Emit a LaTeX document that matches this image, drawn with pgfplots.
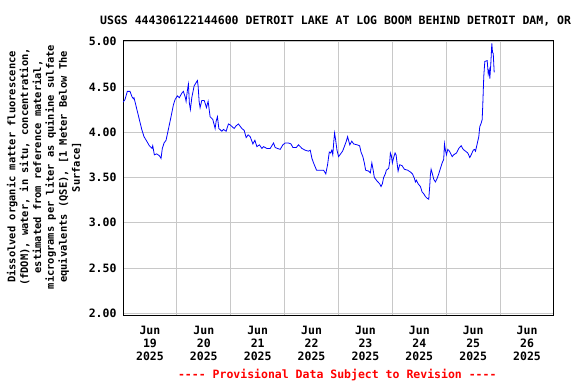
\documentclass[border=0pt]{standalone}
\usepackage{fontspec}
\setmainfont{DejaVu Sans Mono}[Ligatures=TeXOff]
\usepackage{pgfplots}
\pgfplotsset{compat=1.18}
\definecolor{gridgray}{RGB}{200,200,200}
\definecolor{usgsred}{RGB}{255,0,0}
\definecolor{usgsblue}{RGB}{0,0,255}
\begin{document}
\begin{tikzpicture}[x=1pt,y=1pt]
\useasboundingbox (0,0) rectangle (576,-384);
\begin{axis}[
  at={(123pt,-315.5pt)}, anchor=south west,
  scale only axis, width=431pt, height=275.5pt,
  xmin=0, xmax=8, ymin=1.976, ymax=5.017,
  axis line style={black, line width=1pt},
  xtick={0.5,1.5,2.5,3.5,4.5,5.5,6.5,7.5},
  xticklabels={{Jun\\19\\2025},{Jun\\20\\2025},{Jun\\21\\2025},{Jun\\22\\2025},{Jun\\23\\2025},{Jun\\24\\2025},{Jun\\25\\2025},{Jun\\26\\2025}},
  minor xtick={1,2,3,4,5,6,7},
  xminorgrids=true, xmajorgrids=false,
  ytick={2,2.5,3,3.5,4,4.5,5},
  ymajorgrids=true,
  grid style={gridgray, line width=0.8pt},
  minor grid style={gridgray, line width=0.8pt},
  major tick length=0pt, minor tick length=0pt,
  /pgf/number format/assume math mode=true,
  yticklabel={\pgfmathprintnumber[fixed,fixed zerofill,precision=2]{\tick}},
  xticklabel style={align=center, font=\bfseries\fontsize{11.5}{12.8}\selectfont, yshift=-7pt},
  yticklabel style={font=\bfseries\fontsize{11.5}{13}\selectfont, xshift=-3pt},
  clip=true,
]
\addplot[usgsblue, line width=0.8pt] coordinates {
(0.000,4.33) (0.037,4.36) (0.080,4.45) (0.130,4.45) (0.167,4.39) (0.191,4.37) (0.204,4.38) (0.229,4.32)
(0.266,4.23) (0.303,4.14) (0.348,4.03) (0.390,3.95) (0.441,3.90) (0.489,3.85) (0.539,3.82) (0.552,3.85)
(0.582,3.75) (0.626,3.76) (0.675,3.74) (0.706,3.71) (0.730,3.82) (0.762,3.88) (0.799,3.91) (0.842,4.03)
(0.874,4.12) (0.905,4.21) (0.935,4.30) (0.967,4.36) (1.009,4.40) (1.046,4.38) (1.091,4.43) (1.121,4.45)
(1.158,4.38) (1.171,4.34) (1.195,4.46) (1.214,4.53) (1.232,4.32) (1.251,4.25) (1.277,4.38) (1.320,4.51)
(1.351,4.54) (1.381,4.57) (1.394,4.51) (1.413,4.34) (1.431,4.27) (1.463,4.35) (1.506,4.35) (1.530,4.31)
(1.548,4.27) (1.580,4.34) (1.617,4.17) (1.667,4.14) (1.710,4.04) (1.729,4.12) (1.753,4.17) (1.779,4.04)
(1.835,4.01) (1.864,4.03) (1.914,4.01) (1.957,4.09) (1.989,4.08) (2.026,4.06) (2.063,4.04) (2.100,4.07)
(2.143,4.09) (2.206,4.04) (2.249,4.02) (2.286,3.94) (2.323,3.97) (2.361,3.95) (2.411,3.87) (2.448,3.91)
(2.485,3.84) (2.533,3.86) (2.578,3.82) (2.608,3.84) (2.671,3.82) (2.732,3.82) (2.794,3.88) (2.825,3.83)
(2.868,3.82) (2.918,3.81) (2.968,3.86) (3.011,3.88) (3.072,3.88) (3.117,3.87) (3.154,3.83) (3.216,3.83)
(3.258,3.86) (3.322,3.82) (3.383,3.80) (3.444,3.79) (3.476,3.80) (3.507,3.71) (3.537,3.66) (3.593,3.58)
(3.662,3.58) (3.723,3.58) (3.764,3.54) (3.797,3.64) (3.829,3.78) (3.853,3.77) (3.875,3.80) (3.894,3.75)
(3.913,3.90) (3.927,3.99) (3.946,3.92) (3.972,3.80) (4.002,3.73) (4.039,3.76) (4.076,3.79) (4.108,3.84)
(4.145,3.90) (4.169,3.95) (4.191,3.90) (4.210,3.86) (4.247,3.90) (4.281,3.87) (4.344,3.86) (4.392,3.85)
(4.418,3.78) (4.452,3.73) (4.480,3.66) (4.504,3.58) (4.559,3.57) (4.591,3.55) (4.619,3.66) (4.641,3.59)
(4.665,3.50) (4.716,3.46) (4.764,3.43) (4.790,3.40) (4.814,3.43) (4.838,3.50) (4.870,3.54) (4.888,3.58)
(4.931,3.60) (4.950,3.67) (4.963,3.77) (4.981,3.74) (5.000,3.66) (5.024,3.72) (5.050,3.77) (5.069,3.75)
(5.087,3.66) (5.106,3.57) (5.136,3.64) (5.180,3.63) (5.223,3.59) (5.284,3.58) (5.335,3.56) (5.372,3.54)
(5.409,3.49) (5.428,3.45) (5.446,3.47) (5.478,3.43) (5.520,3.40) (5.552,3.34) (5.582,3.32) (5.613,3.29)
(5.645,3.27) (5.675,3.26) (5.693,3.40) (5.706,3.53) (5.719,3.59) (5.743,3.54) (5.768,3.48) (5.799,3.45)
(5.831,3.49) (5.861,3.54) (5.892,3.60) (5.924,3.66) (5.953,3.70) (5.967,3.87) (5.985,3.80) (6.004,3.75)
(6.028,3.81) (6.059,3.79) (6.110,3.73) (6.139,3.75) (6.190,3.77) (6.232,3.82) (6.277,3.85) (6.314,3.81)
(6.357,3.79) (6.400,3.77) (6.437,3.72) (6.463,3.75) (6.500,3.80) (6.524,3.81) (6.543,3.79) (6.574,3.87)
(6.604,3.95) (6.622,4.06) (6.649,4.10) (6.667,4.14) (6.678,4.30) (6.697,4.62) (6.716,4.78) (6.760,4.79)
(6.779,4.64) (6.797,4.69) (6.809,4.59) (6.827,4.75) (6.846,4.98) (6.859,4.88) (6.872,4.87) (6.883,4.74)
(6.890,4.66)
};
\end{axis}
\node[anchor=base west, font=\bfseries\fontsize{11.5}{13}\selectfont, inner sep=0pt] at (100,-24) {USGS 444306122144600 DETROIT LAKE AT LOG BOOM BEHIND DETROIT DAM, OR};
\node[rotate=90, align=center, font=\bfseries\fontsize{10.4}{12.9}\selectfont, inner sep=0pt] at (44,-167) {Dissolved organic matter fluorescence\\(fDOM), water, in situ, concentration,\\estimated from reference material,\\micrograms per liter as quinine sulfate\\equivalents (QSE), [1 Meter Below The\\Surface]};
\node[anchor=center, text=usgsred, font=\bfseries\fontsize{11.5}{13}\selectfont, inner sep=0pt] at (337.3,-375) {---- Provisional Data Subject to Revision ----};
\end{tikzpicture}
\end{document}
